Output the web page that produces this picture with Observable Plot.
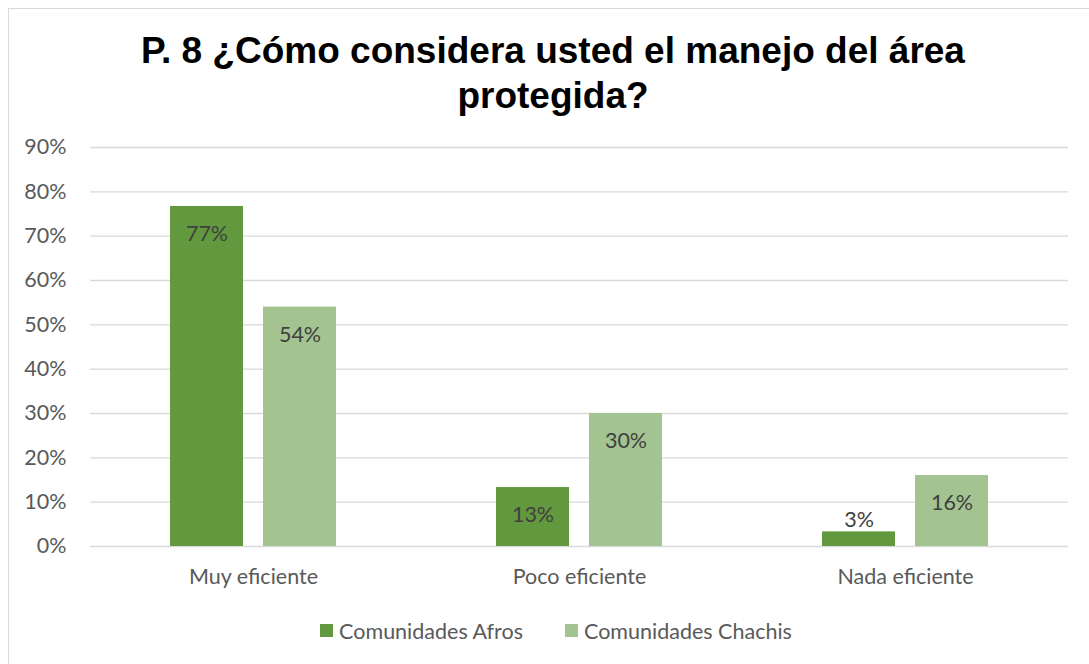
<!DOCTYPE html>
<html>
<head>
<meta charset="utf-8">
<script src="https://cdn.jsdelivr.net/npm/d3@7"></script>
<script src="https://cdn.jsdelivr.net/npm/@observablehq/plot@0.6"></script>
<style>
  html, body { margin: 0; padding: 0; background: #fff; }
  #frame { position: absolute; left: 8px; top: 8px; width: 1100px; height: 680px; border: 1px solid #d9d9d9; box-sizing: border-box; background: #fff; }
  #title { position: absolute; left: 0; top: 28px; width: 1106px; text-align: center; font-family: "Liberation Sans", Arial, sans-serif; font-weight: bold; font-size: 37px; line-height: 45px; color: #000; }
  #chart { position: absolute; left: 0; top: 120px; }
  #legend { position: absolute; left: 0; top: 616px; width: 1112px; text-align: center; font-family: Lato, "Open Sans", sans-serif; font-size: 21.5px; color: #595959; }
  .item { display: inline-flex; align-items: center; margin: 0 21px; }
  .sw { display: inline-block; width: 13px; height: 13px; margin-right: 6px; }
</style>
</head>
<body>
<div id="frame"></div>
<div id="title">P. 8 ¿Cómo considera usted el manejo del área<br>protegida?</div>
<div id="chart"></div>
<div id="legend"></div>
<script>
const categories = ["Muy eficiente", "Poco eficiente", "Nada eficiente"];
const seriesNames = ["Comunidades Afros", "Comunidades Chachis"];
const afros = [0.767, 0.133, 0.033];
const chachis = [0.54, 0.30, 0.16];
const colors = ["#62993e", "#a3c490"];
const yTicks = [0, 0.1, 0.2, 0.3, 0.4, 0.5, 0.6, 0.7, 0.8, 0.9];

const data = [];
categories.forEach((c, i) => {
  data.push({cat: c, series: seriesNames[0], value: afros[i]});
  data.push({cat: c, series: seriesNames[1], value: chachis[i]});
});
const pct = d3.format(".0%");
const font = "Lato, 'Open Sans', sans-serif";
const fs = 21.5;

const chart = Plot.plot({
  width: 1089,
  height: 480,
  marginLeft: 90,
  marginRight: 21,
  marginTop: 27,
  marginBottom: 54,
  style: {fontFamily: font, fontSize: fs + "px", color: "#595959", background: "transparent"},
  fx: {domain: categories, padding: 0, label: null},
  x: {domain: seriesNames, paddingInner: 0.215, paddingOuter: 0.86, axis: null},
  y: {domain: [0, 0.9], label: null},
  color: {domain: seriesNames, range: colors},
  marks: [
    Plot.gridY(yTicks, {stroke: "#d9d9d9", strokeOpacity: 1, strokeWidth: 1.3}),
    Plot.axisY(yTicks, {tickFormat: d3.format(".0%"), tickSize: 0, tickPadding: 24, fontSize: fs, fill: "#595959", label: null}),
    Plot.axisFx({anchor: "bottom", tickSize: 0, tickPadding: 22, fontSize: fs, fill: "#595959", label: null}),
    Plot.barY(data, {fx: "cat", x: "series", y: "value", fill: "series"}),
    Plot.text(data.filter(d => d.value >= 0.08), {fx: "cat", x: "series", y: "value", text: d => pct(d.value), dy: 28, fill: "#404040", fontSize: fs}),
    Plot.text(data.filter(d => d.value < 0.08), {fx: "cat", x: "series", y: "value", text: d => pct(d.value), dy: -12, fill: "#404040", fontSize: fs})
  ]
});
document.getElementById("chart").appendChild(chart);

const legend = document.getElementById("legend");
seriesNames.forEach((s, i) => {
  const item = document.createElement("span");
  item.className = "item";
  const sw = document.createElement("span");
  sw.className = "sw";
  sw.style.background = colors[i];
  item.appendChild(sw);
  item.appendChild(document.createTextNode(s));
  legend.appendChild(item);
});
</script>
</body>
</html>
